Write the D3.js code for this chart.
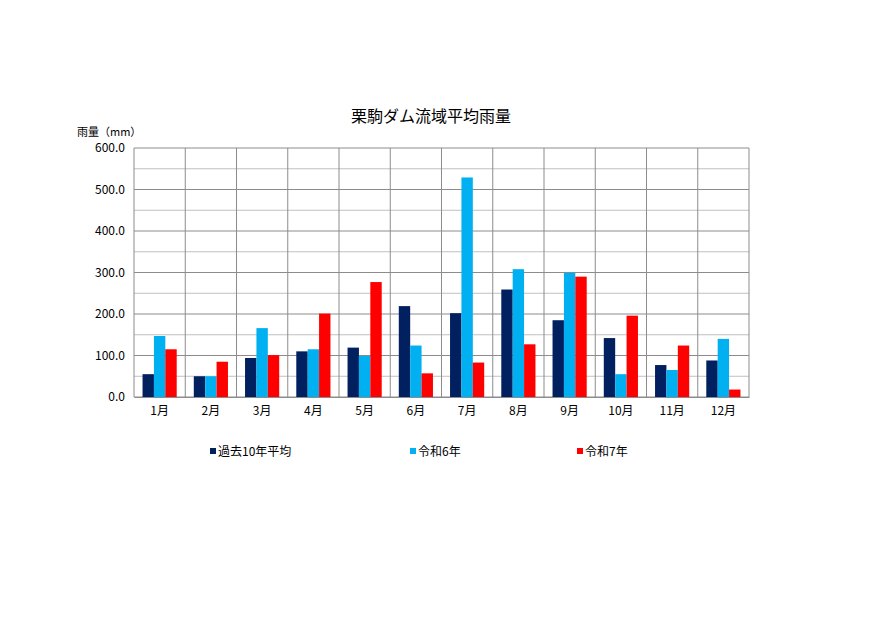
<!DOCTYPE html>
<html><head><meta charset="utf-8">
<script src="https://cdn.jsdelivr.net/npm/d3@7"></script>
<style>body{margin:0;background:#fff}svg{display:block}text{font-family:"Noto Sans CJK JP","Noto Sans",sans-serif}</style>
</head><body><svg id="c" width="890" height="630"></svg>
<script>
const months = ["1月","2月","3月","4月","5月","6月","7月","8月","9月","10月","11月","12月"];
const seriesNames = ["過去10年平均","令和6年","令和7年"];
const avg10 = [55,50,94,110,119,219,202,259,185,142,77,88];
const r6 = [147,50,166,115,99,124,529,308,299,55,65,140];
const r7 = [115,85,101,201,277,57,83,127,290,196,124,18];
const colors = ["#002060","#00B0F0","#FF0000"];
const yTicks = [0,100,200,300,400,500,600];

const values = [avg10, r6, r7];
const svg = d3.select("#c");
const L=134, R=749, T=148, B=397;
const x = d3.scaleBand().domain(months).range([L,R]).padding(0);
const x1 = d3.scaleBand().domain(seriesNames).range([0,x.bandwidth()]).paddingInner(0).paddingOuter(0.75);
const y = d3.scaleLinear().domain([0,600]).range([B,T]);

// minor grid
svg.append("g").selectAll("line").data(d3.range(50,600,100)).join("line")
  .attr("x1",L).attr("x2",R).attr("y1",d=>y(d)).attr("y2",d=>y(d))
  .attr("stroke","#c0c0c0").attr("stroke-width",1);
// major grid
svg.append("g").selectAll("line").data(yTicks).join("line")
  .attr("x1",L).attr("x2",R).attr("y1",d=>y(d)).attr("y2",d=>y(d))
  .attr("stroke","#8c8c8c").attr("stroke-width",1);
// vertical
svg.append("g").selectAll("line").data(months).join("line")
  .attr("x1",d=>x(d)).attr("x2",d=>x(d)).attr("y1",T).attr("y2",B)
  .attr("stroke","#8c8c8c").attr("stroke-width",1);
svg.append("line").attr("x1",R).attr("x2",R).attr("y1",T).attr("y2",B).attr("stroke","#8c8c8c");

// bars
seriesNames.forEach((s,i)=>{
  svg.append("g").selectAll("rect").data(months).join("rect")
    .attr("x",m=>x(m)+x1(s)).attr("width",x1.bandwidth())
    .attr("y",(m,j)=>y(values[i][j])).attr("height",(m,j)=>B-y(values[i][j]))
    .attr("fill",colors[i]);
});

// y axis
const ya = svg.append("g").attr("transform",`translate(${L},0)`)
  .call(d3.axisLeft(y).tickValues(yTicks).tickFormat(d3.format(".1f")).tickSize(0).tickPadding(9));
ya.select(".domain").remove();
ya.selectAll("text").attr("font-size",12).attr("fill","#000").attr("font-family","'Noto Sans CJK JP'");
// x axis
const xa = svg.append("g").attr("transform",`translate(0,${B})`)
  .call(d3.axisBottom(x).tickSize(0).tickPadding(9));
xa.select(".domain").attr("stroke","#8c8c8c");
xa.selectAll("text").attr("font-size",12).attr("fill","#000").attr("font-family","'Noto Sans CJK JP'");

svg.append("text").attr("x",431).attr("y",122).attr("text-anchor","middle")
  .attr("font-size",16).text("栗駒ダム流域平均雨量");
svg.append("text").attr("x",77).attr("y",136).attr("font-size",11).text("雨量（mm）");

// legend
const legX = [210,410,577];
seriesNames.forEach((s,i)=>{
  svg.append("rect").attr("x",legX[i]).attr("y",448).attr("width",6).attr("height",6).attr("fill",colors[i]);
  svg.append("text").attr("x",legX[i]+8).attr("y",456).attr("font-size",12).text(s);
});
</script></body></html>
